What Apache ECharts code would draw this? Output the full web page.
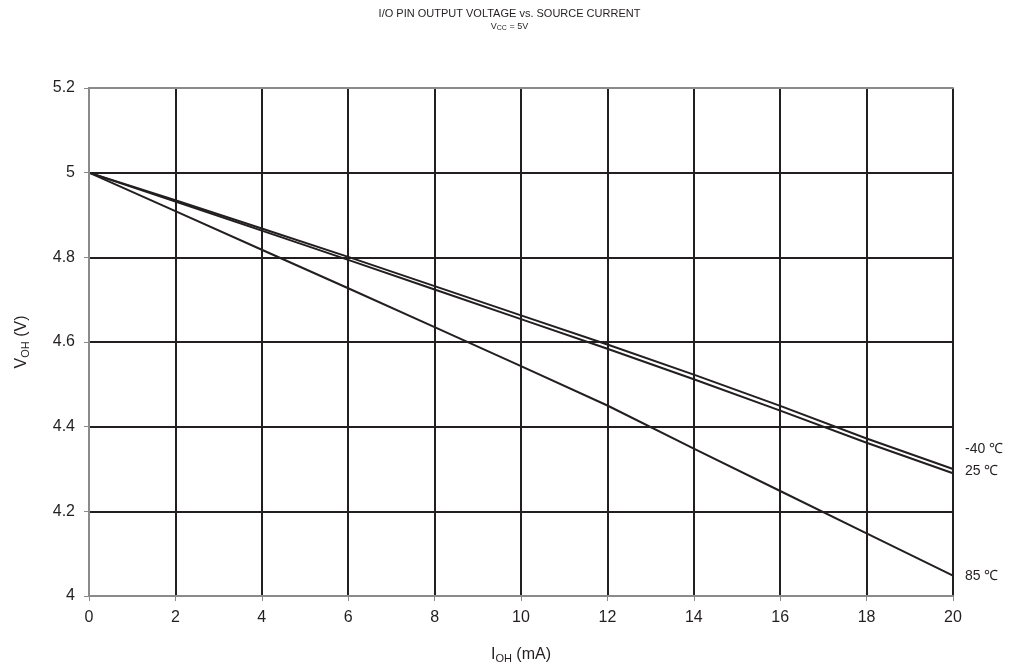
<!DOCTYPE html>
<html style="height: 100%">

<head>
    <meta charset="utf-8">
    <title>index</title>
    <style>
        body { margin: 0; background: #fff; }
        #container {
            width: 1019px;
            height: 669px;
        }
    </style>
</head>

<body>
    <div id="container"></div>
</body>
<script src="https://cdn.jsdelivr.net/npm/echarts@6/dist/echarts.min.js"></script>
<script type="text/javascript">
    var dom = document.getElementById("container");
    var myChart = echarts.init(dom);

    // source current in mA
    var current = [0, 2, 4, 6, 8, 10, 12, 14, 16, 18, 20];
    // output voltage per temperature
    var vMinus40 = [5, 4.935, 4.868, 4.801, 4.732, 4.663, 4.594, 4.523, 4.449, 4.372, 4.300];
    var v25 = [5, 4.932, 4.863, 4.794, 4.724, 4.654, 4.584, 4.512, 4.438, 4.362, 4.290];
    var v85 = [5, 4.909, 4.818, 4.727, 4.635, 4.543, 4.450, 4.348, 4.248, 4.148, 4.048];
    var seriesNames = ['-40 ℃', '25 ℃', '85 ℃'];
    var labelOffsets = [[4, -20], [4, -2], [4, 0]];

    var ink = '#231f20';
    var border = '#8a8a8a';
    var font = 'Liberation Sans, Arial, sans-serif';

    function pairs(ys) {
        return current.map(function (x, i) {
            return [x, ys[i]];
        });
    }

    // plain axes that only draw the grey frame on top of the grid lines
    function frameX(pos) {
        return {
            type: 'value', position: pos, min: 0, max: 20, z: 10,
            axisLine: { show: true, lineStyle: { color: border, width: 2 } },
            axisTick: { show: false }, axisLabel: { show: false }, splitLine: { show: false }
        };
    }
    function frameY(pos) {
        return {
            type: 'value', position: pos, min: 4, max: 5.2, z: 10,
            axisLine: { show: true, lineStyle: { color: border, width: 2 } },
            axisTick: { show: false }, axisLabel: { show: false }, splitLine: { show: false }
        };
    }

    var option = {
        backgroundColor: '#fff',
        textStyle: { fontFamily: font, color: ink },
        title: {
            text: 'I/O PIN OUTPUT VOLTAGE vs. SOURCE CURRENT',
            subtext: 'V{sub|CC} = 5V',
            left: 'center',
            top: 3,
            itemGap: 2,
            textStyle: { fontSize: 11, fontWeight: 'normal', color: ink, fontFamily: font },
            subtextStyle: {
                fontSize: 9, color: ink, fontFamily: font,
                rich: { sub: { fontSize: 7, padding: [4, 0, 0, 0], color: ink } }
            }
        },
        grid: { left: 89, right: 66, top: 88, bottom: 72 },
        xAxis: [{
            type: 'value',
            position: 'bottom',
            min: 0,
            max: 20,
            interval: 2,
            name: 'I{sub|OH} (mA)',
            nameLocation: 'middle',
            nameGap: 49,
            nameTextStyle: {
                fontSize: 16, color: ink,
                rich: { sub: { fontSize: 11, padding: [8, 0, 0, 0], color: ink } }
            },
            axisLine: { show: false },
            axisTick: { show: true, length: 5, lineStyle: { color: border } },
            axisLabel: { fontSize: 16, color: ink, margin: 14 },
            splitLine: { show: true, lineStyle: { color: ink, width: 2 } }
        }, frameX('top'), frameX('bottom')],
        yAxis: [{
            type: 'value',
            position: 'left',
            min: 4,
            max: 5.2,
            interval: 0.2,
            name: 'V{sub|OH} (V)',
            nameLocation: 'middle',
            nameGap: 58,
            nameTextStyle: {
                fontSize: 16, color: ink,
                rich: { sub: { fontSize: 11, padding: [8, 0, 0, 0], color: ink } }
            },
            axisLine: { show: false },
            axisTick: { show: true, length: 5, lineStyle: { color: border } },
            axisLabel: {
                fontSize: 16, color: ink, margin: 14,
                formatter: function (v) { return +v.toFixed(1) + ''; }
            },
            splitLine: { show: true, lineStyle: { color: ink, width: 2 } }
        }, frameY('right'), frameY('left')],
        series: [vMinus40, v25, v85].map(function (ys, i) {
            return {
                name: seriesNames[i],
                type: 'line',
                xAxisIndex: 0,
                yAxisIndex: 0,
                data: pairs(ys),
                showSymbol: false,
                smooth: false,
                z: 5,
                lineStyle: { color: ink, width: 2 },
                endLabel: {
                    show: true,
                    formatter: '{a}',
                    fontSize: 14,
                    color: ink,
                    fontFamily: font,
                    offset: labelOffsets[i]
                },
                emphasis: { disabled: true },
                animation: false
            };
        })
    };
    if (option && typeof option === "object") {
        myChart.setOption(option, true);
    };
</script>

</html>
